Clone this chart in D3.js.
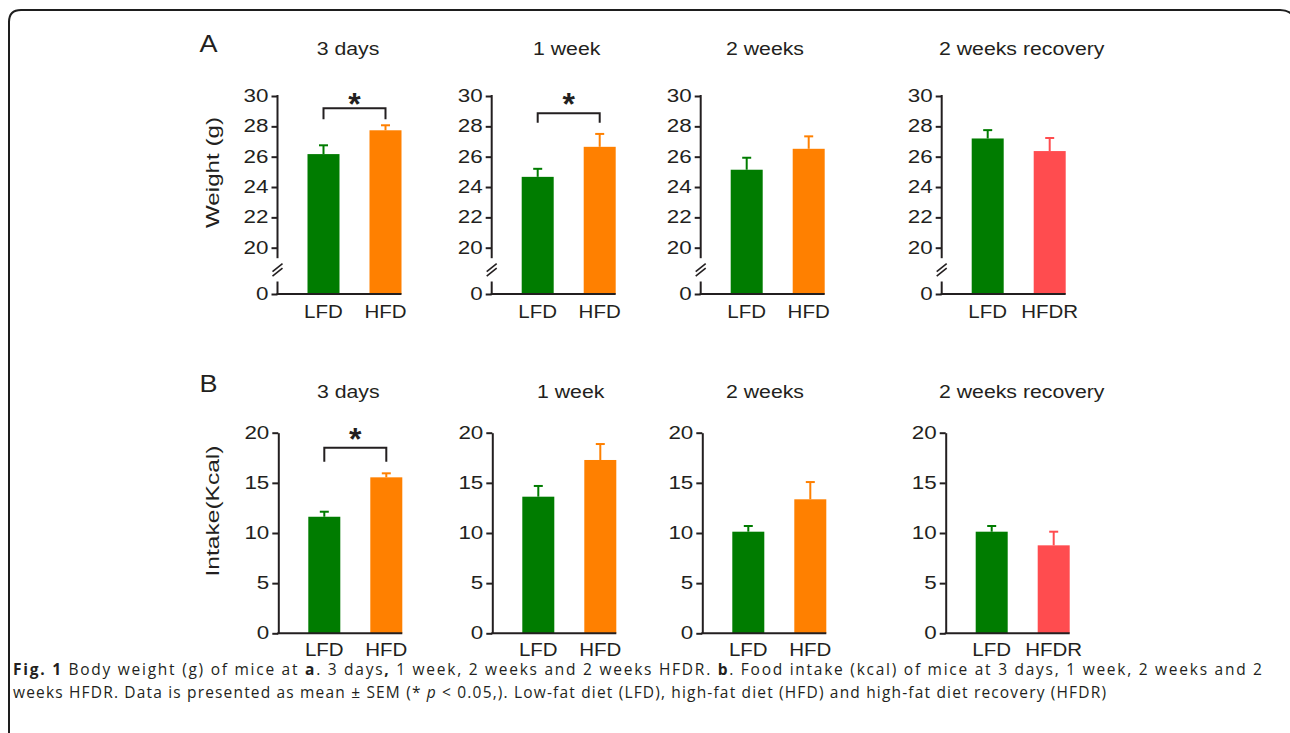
<!DOCTYPE html>
<html><head><meta charset="utf-8">
<script src="https://cdn.jsdelivr.net/npm/d3@7"></script>
<style>body{margin:0;background:#fff;} svg{display:block;}</style>
</head><body><svg id="c" width="1290" height="733"></svg>
<script>
// ---------- data ----------
const periods = ["3 days", "1 week", "2 weeks", "2 weeks recovery"];
const groups = [["LFD", "HFD"], ["LFD", "HFD"], ["LFD", "HFD"], ["LFD", "HFDR"]];
const weightMean = [[26.17, 27.74], [24.67, 26.65], [25.14, 26.52], [27.20, 26.37]];
const weightSem  = [[0.58, 0.33], [0.53, 0.85], [0.79, 0.82], [0.55, 0.86]];
const intakeMean = [[11.62, 15.55], [13.62, 17.28], [10.13, 13.36], [10.13, 8.77]];
const intakeSem  = [[0.50, 0.40], [1.07, 1.59], [0.57, 1.72], [0.57, 1.36]];
const weightSig = [true, true, false, false];
const intakeSig = [true, false, false, false];
const weightTicks = [0, 20, 22, 24, 26, 28, 30];
const intakeTicks = [0, 5, 10, 15, 20];
const groupColors = {LFD: "#007c00", HFD: "#ff8000", HFDR: "#ff4c4f"};

// ---------- layout ----------
const ink = "#231f20";
const FONT = "Liberation Sans, Arial, Helvetica, sans-serif";
const svg = d3.select("#c");
const rows = [
  {letter: "A", ylabel: "Weight (g)", means: weightMean, sems: weightSem, sig: weightSig, ticks: weightTicks,
   brk: true, top: 96, bottom: 294, axisX: [277.5, 491.7, 700.7, 941.7],
   titleX: [348, 566.7, 765, 1021.7], titleY: 55, letterY: 52, labelCY: 172.5, labelLen: 111,
   xlabDy: 23.7, bracketTop: [108.3, 113.3], bracketDrop: [11, 9.5], starY: 97},
  {letter: "B", ylabel: "Intake(Kcal)", means: intakeMean, sems: intakeSem, sig: intakeSig, ticks: intakeTicks,
   brk: false, top: 432.7, bottom: 633.3, axisX: [278.3, 492.3, 702.3, 945.7],
   titleX: [348.3, 570.7, 765, 1021.7], titleY: 398, letterY: 392, labelCY: 511, labelLen: 131,
   xlabDy: 22.7, bracketTop: [447.7], bracketDrop: [14], starY: 432}
];

// horizontal widening of the figure's lettering
function stretch(sel, k) {
  sel.each(function () {
    const t = d3.select(this);
    const x = +t.attr("x") || 0, y = +t.attr("y") || 0;
    t.attr("x", null).attr("y", null).attr("transform", `translate(${x},${y}) scale(${k},1)`);
  });
}

// frame
svg.append("path")
  .attr("d", "M9,740 V22 Q9,10 21,10 H1280 Q1289,10 1293,16")
  .attr("fill", "none").attr("stroke", "#1e1e1e").attr("stroke-width", 2);

rows.forEach(row => {
  const y = row.brk
    ? d3.scaleLinear().domain([0, 20, 30]).range([row.bottom, row.bottom - 46.3, row.top])
    : d3.scaleLinear().domain([0, 20]).range([row.bottom, row.top]);

  svg.append("text").attr("x", 199.5).attr("y", row.letterY)
    .attr("font-family", FONT).attr("font-size", 23.5).attr("fill", ink)
    .text(row.letter).call(stretch, 1.15);

  svg.append("text")
    .attr("transform", `translate(212.5,${row.labelCY}) rotate(-90)`)
    .attr("text-anchor", "middle").attr("dy", "0.36em")
    .attr("font-family", FONT).attr("font-size", 18.5)
    .attr("textLength", row.labelLen).attr("lengthAdjust", "spacingAndGlyphs").attr("fill", ink)
    .text(row.ylabel);

  periods.forEach((p, i) => {
    const ax = row.axisX[i];
    const x = d3.scaleBand().domain(groups[i]).range([ax + 30, ax + 124]).paddingInner(30 / 62).paddingOuter(0);
    const g = svg.append("g");

    // title
    g.append("text").attr("x", row.titleX[i]).attr("y", row.titleY).attr("text-anchor", "middle")
      .attr("font-family", FONT).attr("font-size", 18.5).attr("fill", ink).text(p).call(stretch, 1.15);

    // y axis
    const axis = d3.axisLeft(y).tickValues(row.ticks).tickSize(6).tickPadding(3).tickSizeOuter(0).tickFormat(d3.format("d"));
    const ag = g.append("g").attr("transform", `translate(${ax},0)`).call(axis);
    ag.selectAll(".tick line").attr("stroke", ink).attr("stroke-width", 2);
    ag.selectAll(".tick text").attr("font-family", FONT)
      .attr("font-size", 17.5).attr("fill", ink).call(stretch, 1.28);
    if (row.brk) {
      ag.select(".domain").remove();
      const yb = y(20) + 10.5, yc = y(0) - 12.5;
      ag.append("line").attr("x1", 0).attr("x2", 0).attr("y1", y(30) - 1).attr("y2", yb).attr("stroke", ink).attr("stroke-width", 2);
      ag.append("line").attr("x1", 0).attr("x2", 0).attr("y1", yc).attr("y2", y(0)).attr("stroke", ink).attr("stroke-width", 2);
      [-2.2, 2.2].forEach(o => {
        const cy = (yb + yc) / 2 + o;
        ag.append("line").attr("x1", -5).attr("x2", 5).attr("y1", cy + 4).attr("y2", cy - 4)
          .attr("stroke", ink).attr("stroke-width", 1.6);
      });
    } else {
      ag.select(".domain").attr("stroke", ink).attr("stroke-width", 2);
    }

    // bars
    const data = groups[i].map((k, j) => ({k, m: row.means[i][j], s: row.sems[i][j]}));
    g.selectAll("rect.bar").data(data).enter().append("rect").attr("class", "bar")
      .attr("x", d => x(d.k)).attr("width", x.bandwidth())
      .attr("y", d => y(d.m)).attr("height", d => y(0) - y(d.m))
      .attr("fill", d => groupColors[d.k]);
    // error bars
    data.forEach(d => {
      const cx = x(d.k) + x.bandwidth() / 2;
      g.append("line").attr("x1", cx).attr("x2", cx).attr("y1", y(d.m)).attr("y2", y(d.m + d.s))
        .attr("stroke", groupColors[d.k]).attr("stroke-width", 2);
      g.append("line").attr("x1", cx - 4.5).attr("x2", cx + 4.5).attr("y1", y(d.m + d.s)).attr("y2", y(d.m + d.s))
        .attr("stroke", groupColors[d.k]).attr("stroke-width", 2);
    });

    // x axis
    g.append("line").attr("x1", ax - 1).attr("x2", ax + 124).attr("y1", y(0)).attr("y2", y(0))
      .attr("stroke", ink).attr("stroke-width", 2);
    g.selectAll("text.xl").data(groups[i]).enter().append("text").attr("class", "xl")
      .attr("x", d => x(d) + x.bandwidth() / 2).attr("y", y(0) + row.xlabDy)
      .attr("text-anchor", "middle").attr("font-family", FONT)
      .attr("font-size", 17.7).attr("fill", ink).text(d => d).call(stretch, 1.16);

    // significance
    if (row.sig[i]) {
      const c1 = x(groups[i][0]) + x.bandwidth() / 2, c2 = x(groups[i][1]) + x.bandwidth() / 2;
      const bt = row.bracketTop[i], bd = row.bracketDrop[i];
      g.append("path").attr("d", `M${c1},${bt + bd} V${bt} H${c2} V${bt + bd}`)
        .attr("fill", "none").attr("stroke", ink).attr("stroke-width", 2);
      g.append("text").attr("x", (c1 + c2) / 2).attr("y", row.starY + 18).attr("text-anchor", "middle")
        .attr("font-family", FONT).attr("font-size", 32).attr("font-weight", "bold")
        .attr("fill", ink).text("*");
    }
  });
});

// caption
const cap = svg.append("g").attr("font-family", "Open Sans, Noto Sans, sans-serif").attr("font-size", 15.5).attr("fill", ink);
const line1 = cap.append("text").attr("x", 13).attr("y", 675).attr("textLength", 1249).attr("lengthAdjust", "spacing");
[["Fig. 1", "bold"], [" Body weight (g) of mice at ", null], ["a", "bold"], [". 3 days", null], [",", "bold"],
 [" 1 week, 2 weeks and 2 weeks HFDR. ", null], ["b", "bold"],
 [". Food intake (kcal) of mice at 3 days, 1 week, 2 weeks and 2", null]]
 .forEach(([t, w]) => line1.append("tspan").attr("font-weight", w).text(t));
const line2 = cap.append("text").attr("x", 13).attr("y", 698).attr("textLength", 1093).attr("lengthAdjust", "spacing");
[["weeks HFDR. Data is presented as mean \u00b1 SEM (* ", null], ["p", "italic"],
 [" < 0.05,). Low-fat diet (LFD), high-fat diet (HFD) and high-fat diet recovery (HFDR)", null]]
 .forEach(([t, s]) => line2.append("tspan").attr("font-style", s).text(t));
</script></body></html>
